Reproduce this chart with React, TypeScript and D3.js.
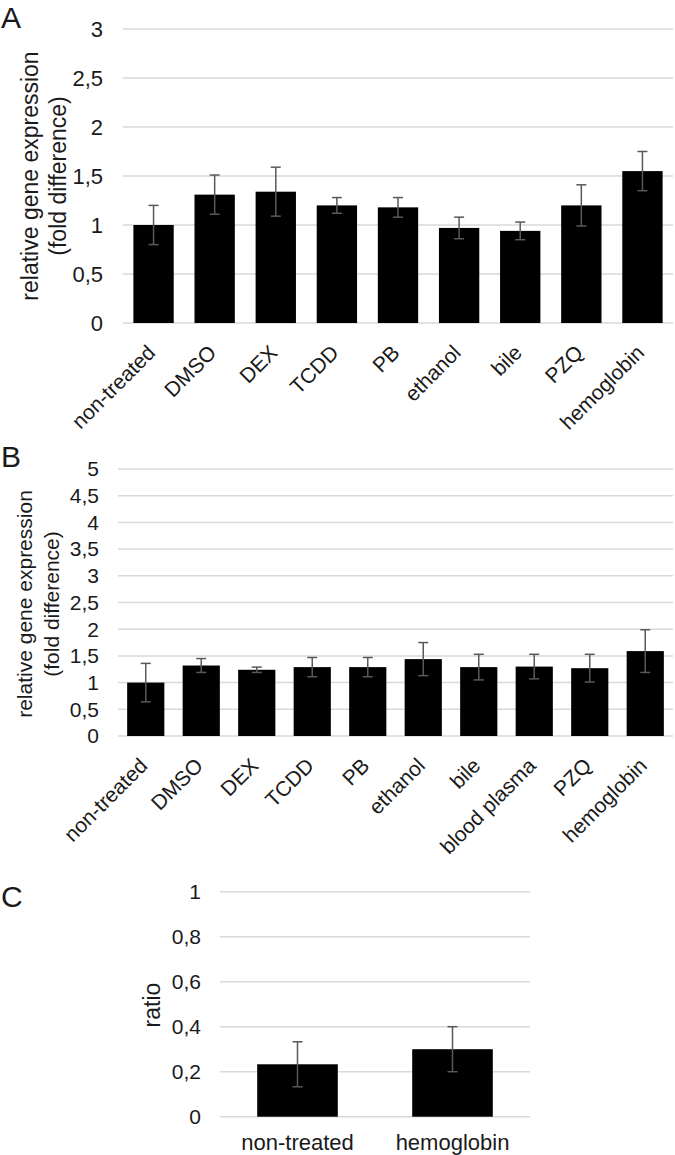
import React from "react";
import * as d3 from "d3";

// panel A
const catsA = ["non-treated", "DMSO", "DEX", "TCDD", "PB", "ethanol", "bile", "PZQ", "hemoglobin"];
const meanA = [1.0, 1.31, 1.34, 1.2, 1.18, 0.97, 0.94, 1.2, 1.55];
const errA = [0.2, 0.2, 0.25, 0.08, 0.1, 0.11, 0.09, 0.21, 0.2];

// panel B
const catsB = ["non-treated", "DMSO", "DEX", "TCDD", "PB", "ethanol", "bile", "blood plasma", "PZQ", "hemoglobin"];
const meanB = [1.0, 1.32, 1.24, 1.29, 1.29, 1.44, 1.29, 1.3, 1.27, 1.59];
const errB = [0.36, 0.13, 0.05, 0.18, 0.18, 0.31, 0.24, 0.23, 0.26, 0.4];

// panel C
const catsC = ["non-treated", "hemoglobin"];
const meanC = [0.233, 0.3];
const errC = [0.1, 0.1];

const ticksA = [0, 0.5, 1, 1.5, 2, 2.5, 3];
const ticksB = [0, 0.5, 1, 1.5, 2, 2.5, 3, 3.5, 4, 4.5, 5];
const ticksC = [0, 0.2, 0.4, 0.6, 0.8, 1];

const W = 675;
const H = 1155;
const FONT = "'Liberation Sans', Arial, Helvetica, sans-serif";
const TEXT = "#1a1a1a";
const GRID = "#d9d9d9";
const ERR = "#595959";

const fmt = d3
  .formatLocale({ decimal: ",", thousands: ".", grouping: [3], currency: ["", ""] })
  .format(".1~f");

type PanelProps = {
  cats: string[];
  means: number[];
  errs: number[];
  ticks: number[];
  left: number;
  right: number;
  top: number;
  bottom: number;
  padInner: number;
  tickFont: number;
  tickGap: number;
  rotated: boolean;
  labelFont: number;
};

const Panel = ({ cats, means, errs, ticks, left, right, top, bottom, padInner, tickFont, tickGap, rotated, labelFont }: PanelProps) => {
  const x = d3.scaleBand<string>().domain(cats).range([left, right]).paddingInner(padInner).paddingOuter(padInner / 2);
  const y = d3.scaleLinear().domain([0, d3.max(ticks) || 1]).range([bottom, top]);
  const bw = x.bandwidth();
  return (
    <g>
      {ticks.map((t) => (
        <g key={t}>
          <line x1={left} x2={right} y1={y(t)} y2={y(t)} stroke={GRID} strokeWidth={1.5} />
          <text x={left - tickGap} y={y(t)} dy="0.35em" textAnchor="end" fontSize={tickFont} fill={TEXT}>
            {fmt(t)}
          </text>
        </g>
      ))}
      {cats.map((c, i) => {
        const cx = (x(c) || 0) + bw / 2;
        return (
          <g key={c}>
            <rect x={x(c)} y={y(means[i])} width={bw} height={bottom - y(means[i])} fill="#000" />
            <g stroke={ERR} strokeWidth={1.5}>
              <line x1={cx} x2={cx} y1={y(means[i] + errs[i])} y2={y(means[i] - errs[i])} />
              <line x1={cx - 5} x2={cx + 5} y1={y(means[i] + errs[i])} y2={y(means[i] + errs[i])} />
              <line x1={cx - 5} x2={cx + 5} y1={y(means[i] - errs[i])} y2={y(means[i] - errs[i])} />
            </g>
            {rotated ? (
              <text
                transform={`translate(${cx + 3},${bottom + 31}) rotate(-45)`}
                textAnchor="end"
                fontSize={labelFont}
                fill={TEXT}
              >
                {c}
              </text>
            ) : (
              <text x={cx} y={bottom + 33} textAnchor="middle" fontSize={labelFont} fill={TEXT}>
                {c}
              </text>
            )}
          </g>
        );
      })}
    </g>
  );
};

const YTitle = ({ x, y, text, size }: { x: number; y: number; text: string; size: number }) => (
  <text transform={`translate(${x},${y}) rotate(-90)`} textAnchor="middle" fontSize={size} fill={TEXT}>
    {text}
  </text>
);

export default function App() {
  return (
    <svg width={W} height={H} style={{ position: "absolute", left: 0, top: 0, background: "#fff" }} fontFamily={FONT}>
      <text x={1} y={28} fontSize={30} fill={TEXT}>A</text>
      <YTitle x={38} y={176} text="relative gene expression" size={23} />
      <YTitle x={66} y={176} text="(fold difference)" size={23} />
      <Panel
        cats={catsA} means={meanA} errs={errA} ticks={ticksA}
        left={123} right={673} top={29} bottom={323} padInner={0.34}
        tickFont={22} tickGap={20} rotated={true} labelFont={21}
      />

      <text x={1} y={467} fontSize={30} fill={TEXT}>B</text>
      <YTitle x={32} y={604} text="relative gene expression" size={21} />
      <YTitle x={59} y={604} text="(fold difference)" size={21} />
      <Panel
        cats={catsB} means={meanB} errs={errB} ticks={ticksB}
        left={118} right={673} top={469} bottom={736} padInner={0.33}
        tickFont={21} tickGap={19} rotated={true} labelFont={21}
      />

      <text x={1} y={907} fontSize={30} fill={TEXT}>C</text>
      <YTitle x={160} y={1005} text="ratio" size={23} />
      <Panel
        cats={catsC} means={meanC} errs={errC} ticks={ticksC}
        left={220} right={530} top={891.7} bottom={1116.7} padInner={0.48}
        tickFont={21} tickGap={19} rotated={false} labelFont={22}
      />
    </svg>
  );
}
